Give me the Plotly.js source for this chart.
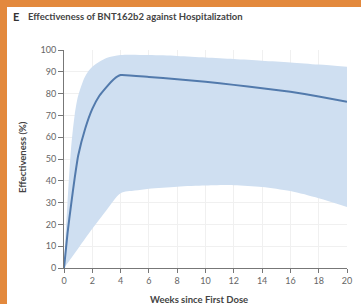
<!DOCTYPE html>
<html>
<head>
<meta charset="utf-8">
<script src="https://cdn.plot.ly/plotly-3.0.1.min.js"></script>
<style>
  html, body { margin: 0; padding: 0; background: #ffffff; }
  #wrap { position: relative; width: 361px; height: 304px; overflow: hidden; }
  #chart { width: 361px; height: 304px; }
  .edge { position: absolute; background: #e3893d; z-index: 5; }
</style>
</head>
<body>
<div id="wrap">
  <div id="chart"></div>
  <div class="edge" style="left:0;top:0;width:361px;height:7px;"></div>
  <div class="edge" style="left:0;top:0;width:7px;height:304px;"></div>
</div>
<script>
// Weeks since first dose and effectiveness (%)
const curveWeeks = [0, 0.25, 0.5, 0.75, 1, 1.5, 2, 2.5, 3, 3.5, 4, 6, 8, 10, 12, 14, 16, 18, 20];
const curveValues = [0, 16, 29, 41, 51.5, 64, 73, 79, 83, 86.5, 88.5, 87.6, 86.6, 85.4, 84, 82.5, 80.8, 78.7, 76.3];

const upperWeeks = [0, 0.1, 0.25, 0.5, 0.75, 1, 1.5, 2, 3, 4, 6, 8, 10, 12, 14, 16, 18, 20];
const upperValues = [0, 14, 30, 55, 70, 79, 88, 92.3, 96.3, 97.7, 97.7, 97.3, 96.6, 95.9, 95.1, 94.3, 93.3, 92.3];

const lowerWeeks = [0, 1, 2, 3, 4, 5, 6, 8, 10, 12, 14, 16, 18, 20];
const lowerValues = [0, 9, 18, 26.5, 34.3, 35.5, 36.4, 37.3, 37.8, 38, 37.2, 35.3, 32, 28];

const xTicks = [0, 2, 4, 6, 8, 10, 12, 14, 16, 18, 20];
const yTicks = [0, 10, 20, 30, 40, 50, 60, 70, 80, 90, 100];

const panelLabel = 'E';
const chartTitle = 'Effectiveness of BNT162b2 against Hospitalization';
const xTitle = 'Weeks since First Dose';
const yTitle = 'Effectiveness (%)';

const bandColor = 'rgb(207,223,241)';
const lineColor = 'rgb(82,122,172)';
const textFont = 'Lato, "Open Sans", sans-serif';

const lowerTrace = {
  x: lowerWeeks, y: lowerValues, type: 'scatter', mode: 'lines',
  line: { width: 0, shape: 'spline', smoothing: 0.8, color: bandColor },
  hoverinfo: 'skip', showlegend: false
};
const upperTrace = {
  x: upperWeeks, y: upperValues, type: 'scatter', mode: 'lines',
  fill: 'tonexty', fillcolor: bandColor,
  line: { width: 0, shape: 'spline', smoothing: 0.8, color: bandColor },
  hoverinfo: 'skip', showlegend: false
};
const curveTrace = {
  x: curveWeeks, y: curveValues, type: 'scatter', mode: 'lines',
  line: { width: 2, color: lineColor, shape: 'spline', smoothing: 0.4 },
  showlegend: false
};

const L = 64, R = 14, T = 50, B = 36, W = 361, H = 304;
const pw = W - L - R, ph = H - T - B;
const px = v => (v - L) / pw;
const py = v => (H - B - v) / ph;

const layout = {
  width: W, height: H,
  margin: { l: L, r: R, t: T, b: B, pad: 0 },
  paper_bgcolor: '#ffffff', plot_bgcolor: '#ffffff',
  font: { family: textFont, size: 9, color: '#555' },
  showlegend: false,
  xaxis: {
    range: [0, 20], tickvals: xTicks, ticktext: xTicks.map(String),
    showgrid: true, gridcolor: '#f0f0f0', gridwidth: 1,
    zeroline: false, showline: true, linecolor: '#777', linewidth: 1,
    ticks: 'outside', ticklen: 4, tickcolor: '#777', tickwidth: 1,
    tickfont: { family: textFont, size: 9, color: '#666' }, fixedrange: true
  },
  yaxis: {
    range: [0, 100], tickvals: yTicks, ticktext: yTicks.map(String),
    showgrid: true, gridcolor: '#f0f0f0', gridwidth: 1,
    zeroline: false, showline: true, linecolor: '#777', linewidth: 1,
    ticks: 'outside', ticklen: 5, tickcolor: '#777', tickwidth: 1,
    tickfont: { family: textFont, size: 9, color: '#666' }, fixedrange: true
  },
  annotations: [
    { text: '<b>' + panelLabel + '</b>', xref: 'paper', yref: 'paper',
      x: px(11), y: py(17), xanchor: 'left', yanchor: 'middle', showarrow: false,
      font: { family: textFont, size: 11, color: '#333' } },
    { text: '<b>' + chartTitle + '</b>', xref: 'paper', yref: 'paper',
      x: px(26), y: py(17), xanchor: 'left', yanchor: 'middle', showarrow: false,
      font: { family: textFont, size: 9.5, color: '#444' } },
    { text: '<b>' + xTitle + '</b>', xref: 'paper', yref: 'paper',
      x: px(199), y: py(299), xanchor: 'center', yanchor: 'middle', showarrow: false,
      font: { family: textFont, size: 9.5, color: '#444' } },
    { text: '<b>' + yTitle + '</b>', xref: 'paper', yref: 'paper',
      x: px(22), y: py(157), xanchor: 'center', yanchor: 'middle', showarrow: false,
      textangle: -90, font: { family: textFont, size: 9.5, color: '#444' } }
  ]
};

Plotly.newPlot('chart', [lowerTrace, upperTrace, curveTrace], layout, { displayModeBar: false, staticPlot: true });
</script>
</body>
</html>
